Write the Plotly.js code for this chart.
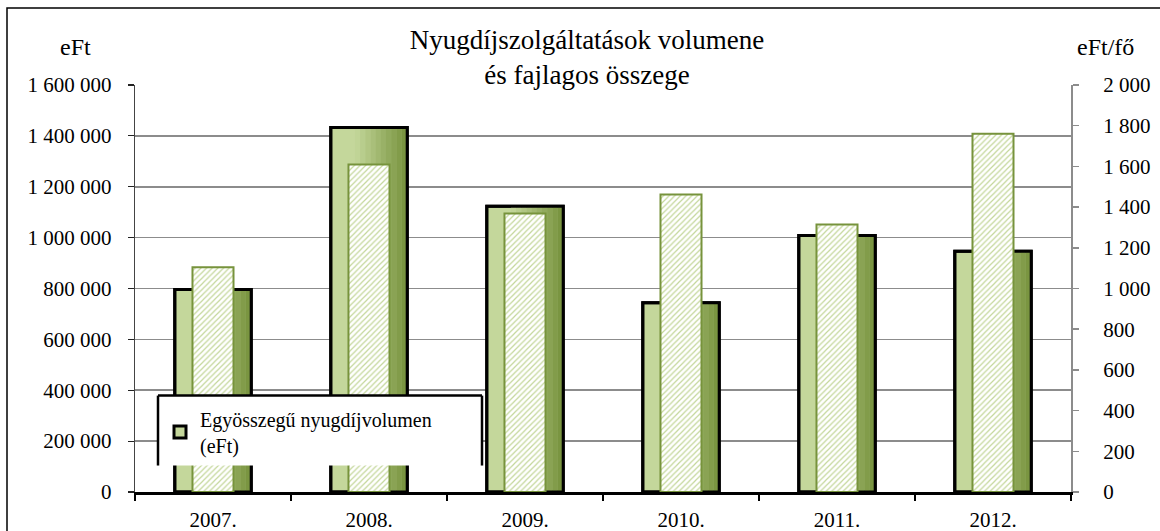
<!DOCTYPE html>
<html>
<head>
<meta charset="utf-8">
<script src="https://cdn.plot.ly/plotly-3.0.1.min.js"></script>
<style>
html,body{margin:0;padding:0;background:#fff;}
#chart{width:1160px;height:531px;}
</style>
</head>
<body>
<div id="chart"></div>
<script>
// ---- data ----
const years = ['2007.', '2008.', '2009.', '2010.', '2011.', '2012.'];
const volumeEFt = [796000, 1433000, 1123000, 744000, 1008000, 946000];   // left axis, eFt
const perCapitaEFt = [1104, 1609, 1368, 1462, 1315, 1761];              // right axis, eFt/fő
const volumeName = 'Egyösszegű nyugdíjvolumen<br>(eFt)';
const perCapitaName = 'Fajlagos összeg (eFt/fő)';
const chartTitle = 'Nyugdíjszolgáltatások volumene<br>és fajlagos összege';
const leftAxisLabel = 'eFt';
const rightAxisLabel = 'eFt/fő';

// ---- styling ----
const FONT = '"Liberation Serif", "Times New Roman", serif';
const LIGHT = [196, 215, 155];
const DARK = [118, 146, 60];
const WIDE = 0.49;
const NARROW = 0.263;

function mix(t) {
  const c = LIGHT.map((v, i) => Math.round(v + (DARK[i] - v) * t));
  return 'rgb(' + c.join(',') + ')';
}

const traces = [];
// base wide bar (light green, black border) - legend entry
traces.push({
  type: 'bar', x: years, y: volumeEFt, name: volumeName,
  width: WIDE, offset: -WIDE / 2,
  marker: {color: mix(0), line: {color: '#000', width: 3}},
  showlegend: true, hoverinfo: 'x+y'
});
// gradient strips on the right part of the wide bar
const gStart = -0.09, gEnd = WIDE / 2 - 0.004, nStrips = 10;
const sw = (gEnd - gStart) / nStrips;
for (let i = 0; i < nStrips; i++) {
  traces.push({
    type: 'bar', x: years, y: volumeEFt,
    width: sw + 0.002, offset: gStart + i * sw,
    marker: {color: mix((i + 0.5) / nStrips), line: {width: 0}},
    showlegend: false, hoverinfo: 'skip'
  });
}
// outline
traces.push({
  type: 'bar', x: years, y: volumeEFt,
  width: WIDE, offset: -WIDE / 2,
  marker: {color: 'rgba(0,0,0,0)', line: {color: '#000', width: 3}},
  showlegend: false, hoverinfo: 'skip'
});
// narrow patterned bars, right axis
traces.push({
  type: 'bar', x: years, y: perCapitaEFt, name: perCapitaName, yaxis: 'y2',
  width: NARROW, offset: -NARROW / 2,
  marker: {
    color: '#ffffff',
    line: {color: '#77933c', width: 2},
    pattern: {shape: '/', fgcolor: '#c4d79b', bgcolor: '#ffffff', size: 4, solidity: 0.3}
  },
  showlegend: false
});

const L = 135, R = 1071, T = 85, B = 492.5;
const px = x => (x - L) / (R - L);
const py = y => (B - y) / (B - T);

const layout = {
  width: 1160, height: 531,
  margin: {l: L, r: 1160 - R, t: T, b: 531 - B},
  paper_bgcolor: '#fff', plot_bgcolor: '#fff',
  separators: ', ',
  barmode: 'overlay',
  font: {family: FONT, color: '#000', size: 21},
  title: {
    text: chartTitle,
    font: {family: FONT, size: 27, color: '#000'},
    x: 587 / 1160, xref: 'container', xanchor: 'center',
    y: 1 - 49 / 531, yref: 'container', yanchor: 'middle'
  },
  xaxis: {
    type: 'category', categoryorder: 'array', categoryarray: years,
    range: [-0.5, 5.5],
    tickson: 'boundaries', ticks: 'outside', ticklen: 6, tickwidth: 1.5, tickcolor: '#000',
    showline: true, linecolor: '#000', linewidth: 2.5,
    showgrid: false, zeroline: false,
    tickfont: {family: FONT, size: 21, color: '#000'},
    ticklabelstandoff: 7,
    fixedrange: true
  },
  yaxis: {
    range: [0, 1600000], dtick: 200000, tickformat: ',',
    showgrid: true, gridcolor: '#8c8c8c', gridwidth: 1.6,
    showline: true, linecolor: '#444', linewidth: 1.2,
    ticks: 'outside', ticklen: 6, tickcolor: '#222', tickwidth: 1.2,
    zeroline: false,
    tickfont: {family: FONT, size: 21, color: '#000'},
    ticklabelstandoff: 12,
    fixedrange: true
  },
  yaxis2: {
    overlaying: 'y', side: 'right',
    range: [0, 2000], dtick: 200, tickformat: ',',
    showgrid: false, zeroline: false,
    showline: true, linecolor: '#8c8c8c', linewidth: 2,
    ticks: 'outside', ticklen: 6, tickcolor: '#8c8c8c', tickwidth: 1.5,
    tickfont: {family: FONT, size: 21, color: '#000'},
    ticklabelstandoff: 20,
    fixedrange: true
  },
  legend: {
    x: px(160), y: py(400), xanchor: 'left', yanchor: 'top',
    bgcolor: 'rgba(0,0,0,0)', borderwidth: 0,
    font: {family: FONT, size: 20, color: '#000'},
    itemclick: false, itemdoubleclick: false
  },
  shapes: [
    // outer chart border
    {type: 'rect', xref: 'paper', yref: 'paper', x0: px(7), x1: 1.4, y0: -0.4, y1: py(8),
     line: {color: '#000', width: 1.5}, fillcolor: 'rgba(0,0,0,0)', layer: 'below'},
    // legend box (partly cut off)
    {type: 'rect', xref: 'paper', yref: 'paper', x0: px(158), x1: px(482), y0: py(466), y1: py(396),
     line: {width: 0}, fillcolor: '#fff', layer: 'above'},
    {type: 'line', xref: 'paper', yref: 'paper', x0: px(158), x1: px(482), y0: py(396), y1: py(396),
     line: {color: '#000', width: 2.5}, layer: 'above'},
    {type: 'line', xref: 'paper', yref: 'paper', x0: px(158), x1: px(158), y0: py(396), y1: py(466),
     line: {color: '#000', width: 2.5}, layer: 'above'},
    {type: 'line', xref: 'paper', yref: 'paper', x0: px(482), x1: px(482), y0: py(396), y1: py(466),
     line: {color: '#000', width: 2.5}, layer: 'above'}
  ],
  annotations: [
    {text: leftAxisLabel, xref: 'paper', yref: 'paper', x: px(75), y: py(47),
     xanchor: 'center', yanchor: 'middle', showarrow: false,
     font: {family: FONT, size: 24, color: '#000'}},
    {text: rightAxisLabel, xref: 'paper', yref: 'paper', x: px(1105), y: py(47),
     xanchor: 'center', yanchor: 'middle', showarrow: false,
     font: {family: FONT, size: 24, color: '#000'}}
  ]
};

Plotly.newPlot('chart', traces, layout, {displayModeBar: false, staticPlot: true});
</script>
</body>
</html>
